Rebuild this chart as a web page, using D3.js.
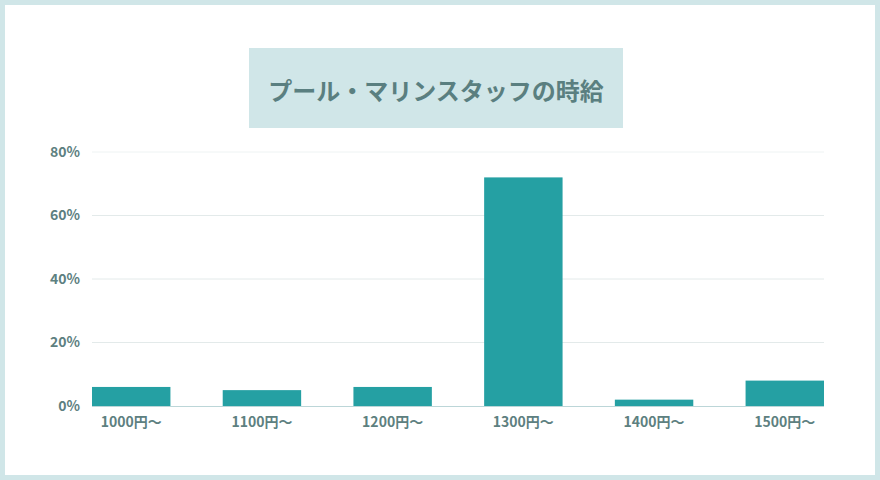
<!DOCTYPE html>
<html>
<head>
<meta charset="utf-8">
<script src="https://cdn.jsdelivr.net/npm/d3@7"></script>
<style>
  html, body { margin: 0; padding: 0; background: #d0e6e8; }
  #chart { width: 880px; height: 480px; }
  text { font-family: "Noto Sans CJK JP", "Noto Sans", sans-serif; }
</style>
</head>
<body>
<div id="chart"></div>
<script>
// Data
const title = "プール・マリンスタッフの時給";
const categories = ["1000円〜", "1100円〜", "1200円〜", "1300円〜", "1400円〜", "1500円〜"];
const values = [6, 5, 6, 72, 2, 8];
const yTicks = [0, 20, 40, 60, 80];

const width = 880;
const height = 480;
const margin = { top: 152, right: 56, bottom: 74, left: 92 };

// SVG
const svg = d3.select('#chart')
  .append("svg")
  .attr("width", width)
  .attr("height", height);

// White card
svg.append("rect")
  .attr("x", 5)
  .attr("y", 5)
  .attr("width", width - 10)
  .attr("height", height - 10)
  .attr("fill", "#ffffff");

// Title box
svg.append("rect")
  .attr("x", 249)
  .attr("y", 48)
  .attr("width", 374)
  .attr("height", 80)
  .attr("fill", "#d0e6e8");

svg.append("text")
  .attr("x", 436)
  .attr("y", 89)
  .attr("text-anchor", "middle")
  .attr("dominant-baseline", "central")
  .attr("font-size", 24)
  .attr("font-weight", "bold")
  .attr("fill", "#5a7f80")
  .text(title);

// Scales
const x = d3.scaleBand()
  .domain(categories)
  .range([margin.left, width - margin.right])
  .paddingInner(0.4)
  .paddingOuter(0);

const y = d3.scaleLinear()
  .domain([0, 80])
  .range([height - margin.bottom, margin.top]);

// Grid lines
svg.append('g')
  .attr("class", "grid")
  .selectAll("line")
  .data(yTicks.filter(d => d > 0))
  .join("line")
  .attr("x1", margin.left)
  .attr("x2", width - margin.right)
  .attr("y1", d => y(d))
  .attr("y2", d => y(d))
  .attr("stroke", d => d === 80 ? "#eef3f3" : "#e3eaea")
  .attr("stroke-width", 1);

// Y axis labels
svg.append('g')
  .attr("class", "y-axis")
  .selectAll("text")
  .data(yTicks)
  .join("text")
  .attr("x", 80)
  .attr("y", d => y(d))
  .attr("dy", "0.35em")
  .attr("text-anchor", "end")
  .attr("font-size", 14)
  .attr("font-weight", "bold")
  .attr("fill", "#5d8080")
  .text(d => d + "%");

// Bars
svg.append('g')
  .attr("class", "bars")
  .selectAll("rect")
  .data(values)
  .join("rect")
  .attr("x", (d, i) => x(categories[i]))
  .attr("y", d => y(d))
  .attr("width", x.bandwidth())
  .attr("height", d => y(0) - y(d))
  .attr("fill", "#25a0a3");

// Baseline
svg.append("line")
  .attr("x1", margin.left)
  .attr("x2", width - margin.right)
  .attr("y1", y(0) + 0.5)
  .attr("y2", y(0) + 0.5)
  .attr("stroke", "#bcd6d8")
  .attr("stroke-width", 1);

// X axis labels
svg.append('g')
  .attr("class", "x-axis")
  .selectAll("text")
  .data(categories)
  .join("text")
  .attr("x", d => x(d) + x.bandwidth() / 2)
  .attr("y", y(0) + 16)
  .attr("dy", "0.35em")
  .attr("text-anchor", "middle")
  .attr("font-size", 14)
  .attr("font-weight", "bold")
  .attr("fill", "#5d8080")
  .text(d => d);
</script>
</body>
</html>
